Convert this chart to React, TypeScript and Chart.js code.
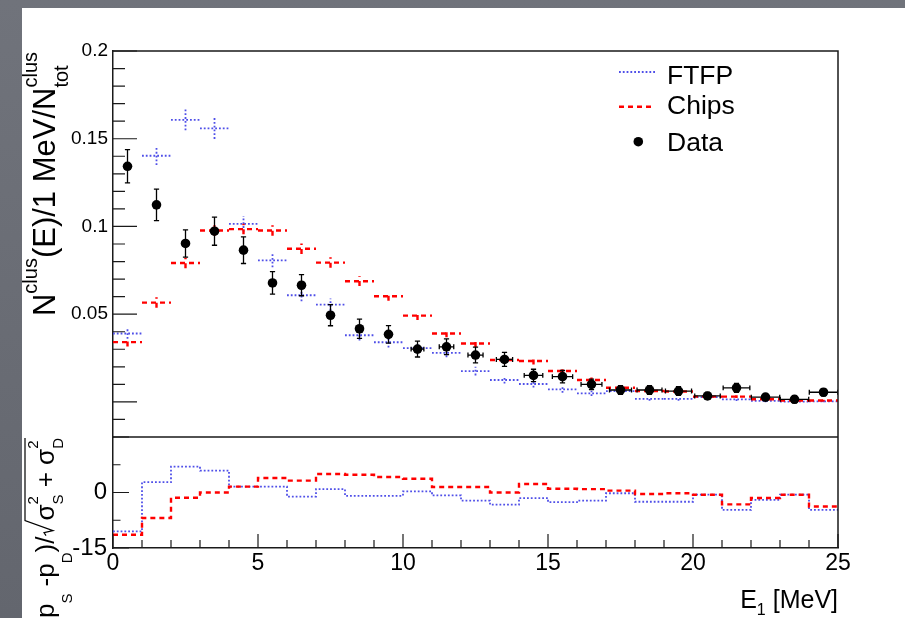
import React, { useEffect, useRef } from 'react';
import { Chart, registerables } from 'chart.js';

Chart.register(...registerables);

const FONT = "'Liberation Sans', Arial, Helvetica, sans-serif";

// ---------------- data ----------------
const binCenters = [0.5, 1.5, 2.5, 3.5, 4.5, 5.5, 6.5, 7.5, 8.5, 9.5, 10.5, 11.5, 12.5, 13.5, 14.5, 15.5, 16.5, 17.5, 18.5, 19.5, 20.5, 21.5, 22.5, 23.5, 24.5];
const binLowEdges = [0, 1, 2, 3, 4, 5, 6, 7, 8, 9, 10, 11, 12, 13, 14, 15, 16, 17, 18, 19, 20, 21, 22, 23, 24];
const lastBinHighEdge = 25;

const dataValues = [0.1343, 0.1123, 0.0903, 0.0973, 0.0865, 0.0678, 0.0665, 0.0494, 0.0417, 0.0385, 0.0301, 0.0314, 0.0267, 0.0242, 0.0151, 0.0144, 0.0100, 0.0068, 0.0068, 0.0062, 0.0034, 0.0080, 0.0027, 0.0015, 0.0055];
const dataErrY = [0.0095, 0.009, 0.0078, 0.008, 0.0076, 0.0064, 0.006, 0.006, 0.0055, 0.005, 0.0045, 0.0045, 0.0045, 0.004, 0.0035, 0.0035, 0.003, 0.0025, 0.0025, 0.0025, 0.002, 0.0025, 0.002, 0.002, 0.002];
const dataErrX = [0, 0, 0, 0, 0, 0, 0, 0, 0, 0, 0.22, 0.25, 0.26, 0.28, 0.32, 0.35, 0.36, 0.38, 0.43, 0.45, 0.44, 0.46, 0.49, 0.49, 0.49];

const ftfpValues = [0.039, 0.1403, 0.1608, 0.1559, 0.1015, 0.0807, 0.0608, 0.0555, 0.038, 0.034, 0.0307, 0.028, 0.0176, 0.0125, 0.0102, 0.0072, 0.0049, 0.0062, 0.0017, 0.0017, 0.0027, 0.0015, 0.0006, 0.0002, 0.0003];
const ftfpErr = [0.003, 0.0053, 0.006, 0.006, 0.0045, 0.004, 0.0035, 0.0035, 0.003, 0.003, 0.003, 0.0025, 0.0025, 0.002, 0.002, 0.002, 0.0015, 0.0015, 0.001, 0.001, 0.001, 0.001, 0.0008, 0.0005, 0.0005];

const chipsValues = [0.0341, 0.0566, 0.0792, 0.0977, 0.0985, 0.0977, 0.0873, 0.0794, 0.0688, 0.0602, 0.0492, 0.039, 0.0333, 0.0239, 0.0233, 0.0176, 0.0125, 0.0081, 0.0062, 0.0059, 0.003, 0.003, 0.0015, 0.0008, 0.0008];
const chipsErr = [0.0025, 0.003, 0.003, 0.003, 0.003, 0.003, 0.003, 0.003, 0.0028, 0.0025, 0.0025, 0.0022, 0.002, 0.002, 0.002, 0.0018, 0.0015, 0.0012, 0.001, 0.001, 0.0008, 0.0008, 0.0006, 0.0005, 0.0005];

const ftfpPull = [-10.5, 2.8, 7.0, 5.9, 1.6, 1.6, -1.1, 0.9, -0.9, -0.9, 0.3, -0.8, -2.2, -3.3, -1.5, -2.6, -2.2, -0.2, -2.5, -2.5, -0.6, -4.7, -2.0, -0.6, -4.7];
const chipsPull = [-11.4, -6.9, -1.4, 0.0, 1.6, 3.9, 3.2, 5.0, 4.8, 4.2, 3.7, 1.5, 1.5, 0.0, 2.3, 1.0, 0.9, 0.5, -0.4, -0.2, -0.6, -3.2, -1.5, -0.6, -3.8];

const xTickValues = [0, 5, 10, 15, 20, 25];
const xTickLabels = ['0', '5', '10', '15', '20', '25'];
const upperTickValues = [0.05, 0.1, 0.15, 0.2];
const upperTickLabels = ['0.05', '0.1', '0.15', '0.2'];
const lowerTickValues = [-15, 0];
const lowerTickLabels = ['-15', '0'];

const legendLabels = ['FTFP', 'Chips', 'Data'];

// ---------------- styles ----------------
const BLUE = '#4f4fe8';
const RED = '#ff0000';
const BLACK = '#000000';
const BLUE_W = 1.8;
const RED_W = 2.4;
const BLUE_DASH = [1.8, 2];
const RED_DASH = [5, 4];

type P = { x: number; y: number | null };

function binSegments(values: number[]): P[] {
  const out: P[] = [];
  binCenters.forEach((c, i) => {
    out.push({ x: c - 0.5, y: values[i] }, { x: c + 0.5, y: values[i] }, { x: c + 0.5, y: null });
  });
  return out;
}
function vErrSegments(values: number[], errs: number[]): P[] {
  const out: P[] = [];
  binCenters.forEach((c, i) => {
    out.push({ x: c, y: values[i] - errs[i] }, { x: c, y: values[i] + errs[i] }, { x: c, y: null });
  });
  return out;
}
function dataErrorSegments(): P[] {
  const out: P[] = [];
  const capX = 0.09;
  const capY = 0.0014;
  binCenters.forEach((c, i) => {
    const v = dataValues[i];
    const e = dataErrY[i];
    out.push({ x: c, y: v - e }, { x: c, y: v + e }, { x: c, y: null });
    out.push({ x: c - capX, y: v + e }, { x: c + capX, y: v + e }, { x: c, y: null });
    out.push({ x: c - capX, y: v - e }, { x: c + capX, y: v - e }, { x: c, y: null });
    const ex = dataErrX[i];
    if (ex > 0) {
      out.push({ x: c - ex, y: v }, { x: c + ex, y: v }, { x: c, y: null });
      out.push({ x: c - ex, y: v - capY }, { x: c - ex, y: v + capY }, { x: c, y: null });
      out.push({ x: c + ex, y: v - capY }, { x: c + ex, y: v + capY }, { x: c, y: null });
    }
  });
  return out;
}
function stepPoints(values: number[]): P[] {
  const pts: P[] = binLowEdges.map((x, i) => ({ x, y: values[i] }));
  pts.push({ x: lastBinHighEdge, y: values[values.length - 1] });
  return pts;
}

const segBase = { showLine: true, pointRadius: 0, pointHoverRadius: 0, pointHitRadius: 0, spanGaps: false, fill: false };

// ---------------- plugins ----------------
type Piece = { t: string; s: number; dy: number };
type Group = Piece[] | 'rad';

function drawRotatedTitle(ctx: CanvasRenderingContext2D, groups: Group[], baseX: number, endY: number) {
  const RAD_W = 16;
  const widths = groups.map((g) => {
    if (g === 'rad') return RAD_W;
    return Math.max(...g.map((p) => { ctx.font = `${p.s}px ${FONT}`; return ctx.measureText(p.t).width; }));
  });
  const total = widths.reduce((a, b) => a + b, 0);
  ctx.save();
  ctx.translate(baseX, endY + total);
  ctx.rotate(-Math.PI / 2);
  ctx.fillStyle = '#000';
  ctx.textBaseline = 'alphabetic';
  ctx.textAlign = 'left';
  let u = 0;
  groups.forEach((g, i) => {
    if (g === 'rad') {
      ctx.strokeStyle = '#000';
      ctx.lineWidth = 1.2;
      ctx.beginPath();
      ctx.moveTo(u + 1, -8);
      ctx.lineTo(u + 4, -10);
      ctx.lineTo(u + 6, -1);
      ctx.lineTo(u + RAD_W, -29);
      ctx.lineTo(total, -29);
      ctx.stroke();
    } else {
      g.forEach((p) => {
        ctx.font = `${p.s}px ${FONT}`;
        ctx.fillText(p.t, u, p.dy);
      });
    }
    u += widths[i];
  });
  ctx.restore();
}

const titlePlugin = {
  id: 'rootTitles',
  afterDraw(chart: any) {
    const ctx: CanvasRenderingContext2D = chart.ctx;
    const ys = chart.scales.y;
    const y2s = chart.scales.y2;
    const xs = chart.scales.x;
    // upper y title
    drawRotatedTitle(ctx, [
      [{ t: 'N', s: 31, dy: 0 }],
      [{ t: 'clus', s: 20, dy: -18 }],
      [{ t: '(E)/1 MeV/N', s: 31, dy: 0 }],
      [{ t: 'clus', s: 20, dy: -18 }, { t: 'tot', s: 20, dy: 13 }],
    ], 55, ys.top + 1);
    // lower y title
    drawRotatedTitle(ctx, [
      [{ t: '(p', s: 26, dy: 0 }],
      [{ t: 'S', s: 15, dy: 18 }],
      [{ t: ' -p', s: 26, dy: 0 }],
      [{ t: 'D', s: 15, dy: 18 }],
      [{ t: ')/', s: 26, dy: 0 }],
      'rad',
      [{ t: 'σ', s: 26, dy: 0 }],
      [{ t: '2', s: 15, dy: -16 }, { t: 'S', s: 15, dy: 9 }],
      [{ t: ' + σ', s: 26, dy: 0 }],
      [{ t: '2', s: 15, dy: -16 }, { t: 'D', s: 15, dy: 9 }],
    ], 54, y2s.top + 1);
    // x title (right aligned to axis end)
    ctx.save();
    ctx.fillStyle = '#000';
    ctx.textBaseline = 'alphabetic';
    ctx.font = `25px ${FONT}`;
    const wE = ctx.measureText('E').width;
    const wRest = ctx.measureText(' [MeV]').width;
    ctx.font = `16px ${FONT}`;
    const w1 = ctx.measureText('1').width;
    const right = xs.right;
    const base = 608;
    let cx = right - (wE + w1 + wRest);
    ctx.font = `25px ${FONT}`;
    ctx.fillText('E', cx, base);
    cx += wE;
    ctx.font = `16px ${FONT}`;
    ctx.fillText('1', cx, base + 7);
    cx += w1;
    ctx.font = `25px ${FONT}`;
    ctx.fillText(' [MeV]', cx, base);
    ctx.restore();

    // legend
    const L = chart.chartArea.left;
    const T = chart.chartArea.top;
    ctx.save();
    ctx.lineCap = 'butt';
    ctx.strokeStyle = BLUE;
    ctx.lineWidth = BLUE_W;
    ctx.setLineDash(BLUE_DASH);
    ctx.beginPath();
    ctx.moveTo(L + 506, T + 21);
    ctx.lineTo(L + 542, T + 21);
    ctx.stroke();
    ctx.strokeStyle = RED;
    ctx.lineWidth = RED_W;
    ctx.setLineDash(RED_DASH);
    ctx.beginPath();
    ctx.moveTo(L + 506, T + 55.7);
    ctx.lineTo(L + 542, T + 55.7);
    ctx.stroke();
    ctx.setLineDash([]);
    ctx.fillStyle = BLACK;
    ctx.beginPath();
    ctx.arc(L + 525.3, T + 90.7, 4.8, 0, Math.PI * 2);
    ctx.fill();
    ctx.font = `26.5px ${FONT}`;
    ctx.textBaseline = 'alphabetic';
    ctx.fillText(legendLabels[0], L + 554, T + 33.3);
    ctx.fillText(legendLabels[1], L + 554, T + 63);
    ctx.fillText(legendLabels[2], L + 554, T + 99.7);
    ctx.restore();
  },
};

const framePlugin = {
  id: 'rootFrame',
  afterDatasetsDraw(chart: any) {
    const ctx: CanvasRenderingContext2D = chart.ctx;
    const area = chart.chartArea;
    const xs = chart.scales.x;
    const ys = chart.scales.y;
    const y2s = chart.scales.y2;
    ctx.save();
    ctx.setLineDash([]);
    ctx.strokeStyle = '#1a1a1a';
    ctx.lineWidth = 1.5;
    ctx.beginPath();
    ctx.moveTo(area.left, area.top);
    ctx.lineTo(area.right, area.top);
    ctx.lineTo(area.right, area.bottom);
    ctx.moveTo(area.left, ys.bottom);
    ctx.lineTo(area.right, ys.bottom);
    ctx.stroke();

    ctx.lineWidth = 1.2;
    ctx.beginPath();
    // upper y ticks: every 0.01, long every 0.05
    for (let k = -2; k <= 20; k++) {
      const p = ys.getPixelForValue(k / 100);
      const len = k % 5 === 0 ? 24 : 12;
      ctx.moveTo(area.left, p);
      ctx.lineTo(area.left + len, p);
    }
    // lower y ticks: every 7.5, long every 15
    for (let k = -2; k <= 2; k++) {
      const p = y2s.getPixelForValue(k * 7.5);
      const len = k % 2 === 0 ? 16 : 7.5;
      ctx.moveTo(area.left, p);
      ctx.lineTo(area.left + len, p);
    }
    // x ticks on the lower pad
    for (let k = 0; k <= 25; k++) {
      const p = xs.getPixelForValue(k);
      const len = k % 5 === 0 ? 14 : 8;
      ctx.moveTo(p, y2s.bottom);
      ctx.lineTo(p, y2s.bottom - len);
    }
    ctx.stroke();
    ctx.restore();
  },
};

export default function App() {
  const ref = useRef<HTMLCanvasElement>(null);

  useEffect(() => {
    const canvas = ref.current;
    if (!canvas) return;

    const datasets: any[] = [
      {
        label: 'Data',
        data: binCenters.map((c, i) => ({ x: c, y: dataValues[i] })),
        yAxisID: 'y',
        showLine: false,
        pointRadius: 4.8,
        pointBackgroundColor: BLACK,
        pointBorderColor: BLACK,
        pointBorderWidth: 0,
        pointHoverRadius: 4.8,
      },
      { ...segBase, label: 'Data err', data: dataErrorSegments(), yAxisID: 'y', borderColor: BLACK, borderWidth: 1.3 },
      { ...segBase, label: 'Chips', data: binSegments(chipsValues), yAxisID: 'y', borderColor: RED, borderWidth: RED_W, borderDash: RED_DASH },
      { ...segBase, label: 'Chips err', data: vErrSegments(chipsValues, chipsErr), yAxisID: 'y', borderColor: RED, borderWidth: RED_W, borderDash: RED_DASH },
      { ...segBase, label: 'FTFP', data: binSegments(ftfpValues), yAxisID: 'y', borderColor: BLUE, borderWidth: BLUE_W, borderDash: BLUE_DASH },
      { ...segBase, label: 'FTFP err', data: vErrSegments(ftfpValues, ftfpErr), yAxisID: 'y', borderColor: BLUE, borderWidth: BLUE_W, borderDash: BLUE_DASH },
      { ...segBase, label: 'Chips pull', data: stepPoints(chipsPull), yAxisID: 'y2', stepped: true, borderColor: RED, borderWidth: RED_W, borderDash: RED_DASH },
      { ...segBase, label: 'FTFP pull', data: stepPoints(ftfpPull), yAxisID: 'y2', stepped: true, borderColor: BLUE, borderWidth: BLUE_W, borderDash: BLUE_DASH },
    ];

    const chart = new Chart(canvas, {
      type: 'scatter',
      data: { datasets },
      options: {
        animation: false,
        responsive: false,
        maintainAspectRatio: false,
        devicePixelRatio: 1,
        events: [],
        layout: { padding: { left: 0, top: 51, right: 67, bottom: 0 } },
        plugins: { legend: { display: false }, tooltip: { enabled: false }, title: { display: false } },
        scales: {
          x: {
            type: 'linear',
            position: 'bottom',
            min: 0,
            max: 25,
            afterFit: (s: any) => { s.height = 70; },
            afterBuildTicks: (s: any) => { s.ticks = xTickValues.map((v) => ({ value: v })); },
            grid: { display: false, drawTicks: false },
            border: { display: true, color: '#1a1a1a', width: 1.5 },
            ticks: {
              autoSkip: false,
              maxRotation: 0,
              padding: 2,
              color: '#000',
              font: { family: FONT, size: 23 },
              callback: (v: any) => xTickLabels[xTickValues.indexOf(Number(v))] ?? '',
            },
          },
          y: {
            type: 'linear',
            position: 'left',
            stack: 'pads',
            stackWeight: 386,
            weight: 2,
            min: -0.02,
            max: 0.2,
            afterFit: (s: any) => { s.width = 113; },
            afterBuildTicks: (s: any) => { s.ticks = upperTickValues.map((v) => ({ value: v })); },
            grid: { display: false, drawTicks: false },
            border: { display: true, color: '#1a1a1a', width: 1.5 },
            ticks: {
              autoSkip: false,
              padding: 5,
              color: '#000',
              font: { family: FONT, size: 19 },
              callback: (v: any) => upperTickLabels[upperTickValues.indexOf(Number(v))] ?? '',
            },
          },
          y2: {
            type: 'linear',
            position: 'left',
            stack: 'pads',
            stackWeight: 111,
            weight: 1,
            min: -15,
            max: 15,
            afterFit: (s: any) => { s.width = 113; },
            afterBuildTicks: (s: any) => { s.ticks = lowerTickValues.map((v) => ({ value: v })); },
            grid: { display: false, drawTicks: false },
            border: { display: true, color: '#1a1a1a', width: 1.5 },
            ticks: {
              autoSkip: false,
              padding: 6,
              color: '#000',
              font: { family: FONT, size: 24 },
              callback: (v: any) => lowerTickLabels[lowerTickValues.indexOf(Number(v))] ?? '',
            },
          },
        },
      } as any,
      plugins: [framePlugin, titlePlugin],
    });

    return () => chart.destroy();
  }, []);

  return (
    <div style={{ position: 'fixed', left: 0, top: 0, width: 905, height: 618, overflow: 'hidden', background: 'linear-gradient(180deg, #70737b 0%, #63666e 100%)' }}>
      <div style={{ position: 'absolute', left: 22, top: 8, right: 0, bottom: 0, background: '#ffffff' }} />
      <canvas ref={ref} width={905} height={618} style={{ position: 'absolute', left: 0, top: 0, width: 905, height: 618 }} />
    </div>
  );
}
